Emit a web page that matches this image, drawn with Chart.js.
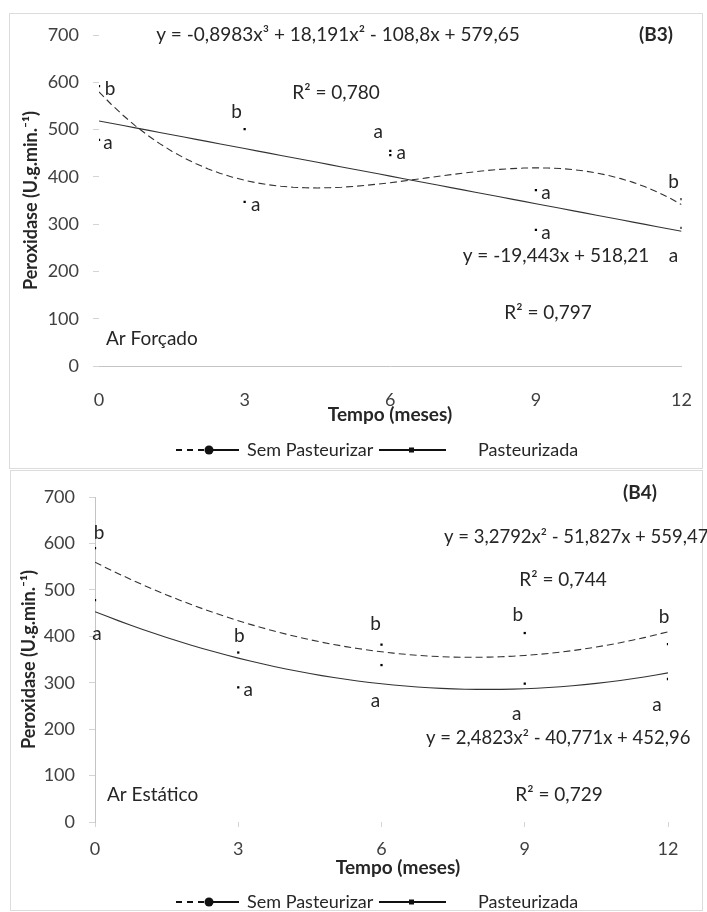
<!DOCTYPE html>
<html>
<head>
<meta charset="utf-8">
<script src="https://cdn.jsdelivr.net/npm/chart.js@4.4.1/dist/chart.umd.min.js"></script>
<style>
    body { margin: 0; background: #fff; }
    #wrap { position: relative; width: 707px; height: 912px; overflow: hidden; }
    .box { position: absolute; border: 1px solid #dcdcdc; }
    canvas { position: absolute; left: 0; }
</style>
</head>
<body>
<div id="wrap">
    <div class="box" style="left:9px; top:13px; width:692px; height:454px;"></div>
    <div class="box" style="left:10px; top:470px; width:691px; height:439px;"></div>
    <canvas id="chartB3" width="707" height="462" style="top:0"></canvas>
    <canvas id="chartB4" width="707" height="450" style="top:462px"></canvas>
</div>
<script>
let months = [0, 3, 6, 9, 12];

// B3 - Ar Forçado
let b3Sem = [592, 347, 455, 372, 353];
let b3Past = [478, 501, 446, 288, 292];
let b3SemLetters = ['b', 'a', 'a', 'a', 'b'];
let b3PastLetters = ['a', 'b', 'a', 'a', 'a'];
let b3SemCoef = [579.65, -108.8, 18.191, -0.8983];
let b3PastCoef = [518.21, -19.443];

// B4 - Ar Estático
let b4Sem = [590, 365, 382, 407, 383];
let b4Past = [478, 290, 338, 298, 308];
let b4SemLetters = ['b', 'b', 'b', 'b', 'b'];
let b4PastLetters = ['a', 'a', 'a', 'a', 'a'];
let b4SemCoef = [559.47, -51.827, 3.2792];
let b4PastCoef = [452.96, -40.771, 2.4823];

let seriesNames = ['Sem Pasteurizar', 'Pasteurizada'];

let FONT = 'Lato, "Open Sans", sans-serif';
let TEXT = '#262626';

function toPoints(ys) {
    return months.map((m, i) => ({ x: m, y: ys[i] }));
}

// trend line from the regression equation printed on the chart
function trend(coef) {
    let pts = [];
    for (let i = 0; i <= 48; i++) {
        let x = i / 4;
        let y = 0;
        coef.forEach((c, k) => { y += c * Math.pow(x, k); });
        pts.push({ x: x, y: y });
    }
    return pts;
}

let letterPlugin = {
    id: 'letters',
    afterDatasetsDraw(chart) {
        let ctx = chart.ctx;
        ctx.save();
        ctx.font = '19px ' + FONT;
        ctx.fillStyle = TEXT;
        ctx.textAlign = 'center';
        ctx.textBaseline = 'middle';
        chart.data.datasets.forEach((ds, di) => {
            if (!ds.letters) return;
            let meta = chart.getDatasetMeta(di);
            meta.data.forEach((p, i) => {
                let off = ds.letterOffsets[i];
                ctx.fillText(ds.letters[i], p.x + off[0], p.y + off[1]);
            });
        });
        ctx.restore();
    }
};

let notesPlugin = {
    id: 'notes',
    afterDraw(chart, args, opts) {
        let ctx = chart.ctx;
        ctx.save();
        ctx.fillStyle = TEXT;
        ctx.textBaseline = 'middle';
        (opts.items || []).forEach(t => {
            ctx.font = (t.bold ? 'bold ' : '') + (t.size || 19) + 'px ' + FONT;
            ctx.textAlign = t.align || 'center';
            ctx.fillText(t.text, t.x, t.y);
        });

        // legend
        let y = opts.legendY;
        ctx.strokeStyle = '#111';
        ctx.fillStyle = '#111';
        ctx.lineWidth = 2;
        ctx.setLineDash([6, 5]);
        ctx.beginPath(); ctx.moveTo(176, y); ctx.lineTo(207, y); ctx.stroke();
        ctx.setLineDash([]);
        ctx.beginPath(); ctx.moveTo(207, y); ctx.lineTo(239, y); ctx.stroke();
        ctx.beginPath(); ctx.arc(209, y, 4.5, 0, Math.PI * 2); ctx.fill();
        ctx.beginPath(); ctx.moveTo(379, y); ctx.lineTo(446, y); ctx.stroke();
        ctx.fillRect(409, y - 2.5, 5, 5);
        ctx.fillStyle = TEXT;
        ctx.font = '18px ' + FONT;
        ctx.textAlign = 'left';
        ctx.fillText(seriesNames[0], 247, y);
        ctx.fillText(seriesNames[1], 478, y);
        ctx.restore();
    }
};

function makeChart(id, cfg) {
    let ctx = document.getElementById(id).getContext('2d');
    return new Chart(ctx, {
        type: 'line',
        data: {
            datasets: [{
                label: seriesNames[0] + ' fit',
                data: trend(cfg.semCoef),
                borderColor: '#333',
                borderWidth: 1.1,
                borderDash: [7, 4],
                pointRadius: 0,
                tension: 0
            }, {
                label: seriesNames[1] + ' fit',
                data: trend(cfg.pastCoef),
                borderColor: '#333',
                borderWidth: 1.1,
                pointRadius: 0,
                tension: 0
            }, {
                label: seriesNames[0],
                data: toPoints(cfg.sem),
                showLine: false,
                pointStyle: 'rect',
                pointRadius: 1.6,
                backgroundColor: '#000',
                borderColor: '#000',
                borderWidth: 0,
                letters: cfg.semLetters,
                letterOffsets: cfg.semOffsets
            }, {
                label: seriesNames[1],
                data: toPoints(cfg.past),
                showLine: false,
                pointStyle: 'rect',
                pointRadius: 1.6,
                backgroundColor: '#000',
                borderColor: '#000',
                borderWidth: 0,
                letters: cfg.pastLetters,
                letterOffsets: cfg.pastOffsets
            }]
        },
        options: {
            responsive: false,
            animation: false,
            layout: { padding: cfg.padding },
            plugins: {
                legend: { display: false },
                tooltip: { enabled: false },
                notes: { items: cfg.notes, legendY: cfg.legendY }
            },
            scales: {
                x: {
                    type: 'linear',
                    min: 0,
                    max: 12,
                    ticks: {
                        stepSize: 3,
                        padding: cfg.xTickPad,
                        color: '#404040',
                        font: { family: FONT, size: 18 }
                    },
                    grid: cfg.xGrid,
                    border: cfg.xBorder,
                    afterFit: s => { s.height = cfg.xHeight; }
                },
                y: {
                    min: 0,
                    max: 700,
                    ticks: {
                        stepSize: 100,
                        padding: 14,
                        color: '#404040',
                        font: { family: FONT, size: 18 }
                    },
                    grid: { drawOnChartArea: false, drawTicks: true, tickLength: 6, color: '#d4d4d4' },
                    border: cfg.yBorder,
                    title: {
                        display: true,
                        text: 'Peroxidase (U.g.min.⁻¹)',
                        color: TEXT,
                        font: { family: FONT, size: 18, weight: 'bold' },
                        padding: { top: cfg.yTitlePad, bottom: 0 }
                    },
                    afterFit: s => { s.width = cfg.yWidth; }
                }
            }
        },
        plugins: [letterPlugin, notesPlugin]
    });
}

makeChart('chartB3', {
    sem: b3Sem, past: b3Past,
    semCoef: b3SemCoef, pastCoef: b3PastCoef,
    semLetters: b3SemLetters, pastLetters: b3PastLetters,
    semOffsets: [[11, 3], [11, 3], [-12, -19], [10, 3], [-8, -17]],
    pastOffsets: [[9, 3], [-8, -17], [11, -2], [10, 3], [-8, 28]],
    padding: { top: 35, right: 25, bottom: 36, left: 0 },
    xHeight: 60, yWidth: 99, yTitlePad: 20, xTickPad: 15,
    xGrid: { display: false },
    xBorder: { display: true, color: '#c4c4c4', width: 1 },
    yBorder: { display: false },
    legendY: 450,
    notes: [
        { text: 'y = -0,8983x³ + 18,191x² - 108,8x + 579,65', x: 338, y: 35 },
        { text: '(B3)', x: 656, y: 35, bold: true },
        { text: 'R² = 0,780', x: 336, y: 93 },
        { text: 'y = -19,443x + 518,21', x: 556, y: 256 },
        { text: 'R² = 0,797', x: 548, y: 313 },
        { text: 'Ar Forçado', x: 106, y: 339, align: 'left' },
        { text: 'Tempo (meses)', x: 390, y: 415, bold: true }
    ]
});

makeChart('chartB4', {
    sem: b4Sem, past: b4Past,
    semCoef: b4SemCoef, pastCoef: b4PastCoef,
    semLetters: b4SemLetters, pastLetters: b4PastLetters,
    semOffsets: [[4, -15], [1, -17], [-6, -21], [-7, -18], [-4, -27]],
    pastOffsets: [[2, 34], [10, 3], [-6, 36], [-8, 30], [-11, 26]],
    padding: { top: 35, right: 39, bottom: 34, left: 0 },
    xHeight: 56, yWidth: 95, yTitlePad: 18, xTickPad: 11,
    xGrid: { drawOnChartArea: false, drawTicks: true, tickLength: 5, color: '#d4d4d4' },
    xBorder: { display: false },
    yBorder: { display: true, color: '#c4c4c4', width: 1 },
    legendY: 440,
    notes: [
        { text: '(B4)', x: 640, y: 31, bold: true },
        { text: 'y = 3,2792x² - 51,827x + 559,47', x: 444, y: 75, align: 'left', size: 18.5 },
        { text: 'R² = 0,744', x: 563, y: 118 },
        { text: 'y = 2,4823x² - 40,771x + 452,96', x: 426, y: 276, align: 'left', size: 18.5 },
        { text: 'R² = 0,729', x: 559, y: 333 },
        { text: 'Ar Estático', x: 107, y: 333, align: 'left' },
        { text: 'Tempo (meses)', x: 398, y: 406, bold: true }
    ]
});
</script>
</body>
</html>
